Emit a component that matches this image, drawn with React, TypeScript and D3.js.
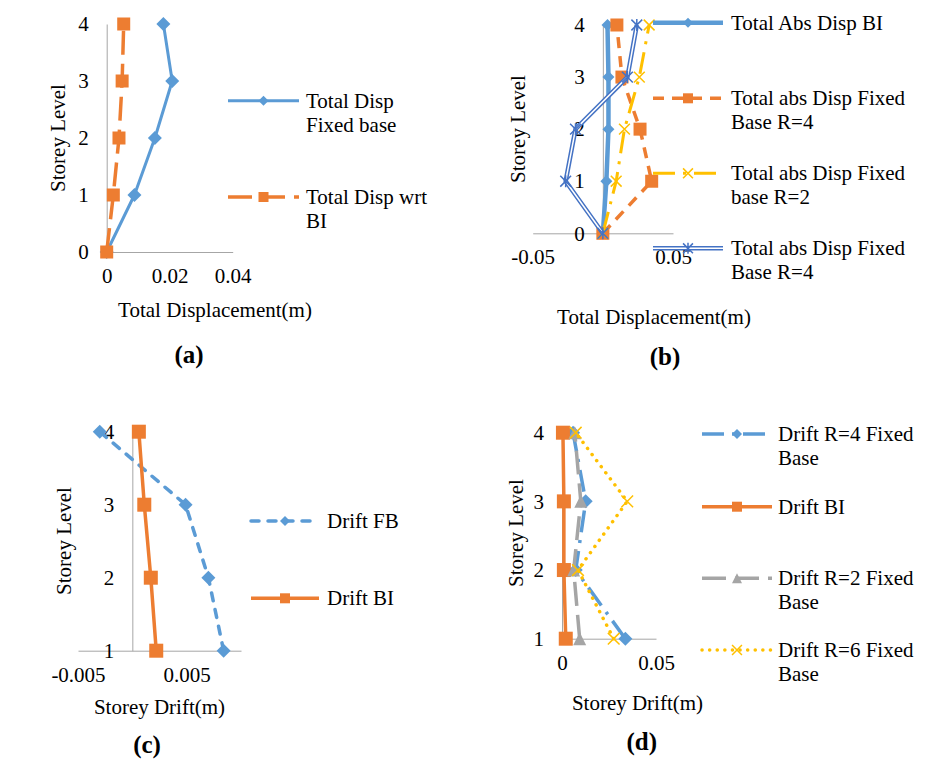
import * as d3 from 'd3';
import React, { useEffect, useRef } from 'react';

// storey levels
const levelsAB = [0, 1, 2, 3, 4];
const levelsCD = [1, 2, 3, 4];

// (a) total displacement (m)
const dispFixedBase = [0, 0.0088, 0.0153, 0.0208, 0.018];
const dispWrtBI = [0, 0.0021, 0.0039, 0.0049, 0.0054];

// (b) total absolute displacement (m)
const absDispBI = [0, 0.0025, 0.004, 0.004, 0.0033];
const absDispFixedR4 = [0, 0.0348, 0.0265, 0.0136, 0.01];
const absDispFixedR2 = [0, 0.0095, 0.0154, 0.026, 0.033];
const absDispFixedR4b = [0, -0.0265, -0.0195, 0.0175, 0.0242];

// (c) storey drift (m)
const driftFB = [0.0084, 0.007, 0.0049, -0.003];
const driftBI = [0.0022, 0.0017, 0.0011, 0.0006];

// (d) storey drift (m)
const driftR4 = [0.0337, 0.0073, 0.0126, 0.0059];
const driftBId = [0.002, 0.001, 0.001, 0.0005];
const driftR2 = [0.0094, 0.0062, 0.01, 0.0068];
const driftR6 = [0.0275, 0.0085, 0.0347, 0.0073];

// tick labels
const xTicksA = [0, 0.02, 0.04];
const xTicksB = [-0.05, 0.05];
const xTicksC = [-0.005, 0.005];
const xTicksD = [0, 0.05];

const BLUE = '#5B9BD5';
const ORANGE = '#ED7D31';
const GREY = '#A5A5A5';
const GOLD = '#FFC000';
const DBLUE = '#4472C4';
const AXIS = '#A6A6A6';
const FONT = '"Liberation Serif", "Times New Roman", serif';

function drawMarker(g, type, cx, cy, s, color) {
    const h = s / 2;
    if (type === 'diamond') {
        g.append('path')
            .attr('d', `M${cx},${cy - h}L${cx + h},${cy}L${cx},${cy + h}L${cx - h},${cy}Z`)
            .attr('fill', color);
    } else if (type === 'square') {
        g.append('rect')
            .attr('x', cx - h).attr('y', cy - h)
            .attr('width', s).attr('height', s)
            .attr('fill', color);
    } else if (type === 'triangle') {
        g.append('path')
            .attr('d', `M${cx},${cy - h}L${cx + h},${cy + h}L${cx - h},${cy + h}Z`)
            .attr('fill', color);
    } else if (type === 'x' || type === 'star') {
        const q = h * 0.9;
        g.append('path')
            .attr('d', `M${cx - q},${cy - q}L${cx + q},${cy + q}M${cx - q},${cy + q}L${cx + q},${cy - q}` +
                (type === 'star' ? `M${cx},${cy - h}L${cx},${cy + h}` : ''))
            .attr('stroke', color)
            .attr('stroke-width', 1.5)
            .attr('fill', 'none');
    }
}

function drawLine(g, pts, s) {
    const path = d3.line()(pts);
    g.append('path')
        .attr('d', path)
        .attr('fill', 'none')
        .attr('stroke', s.color)
        .attr('stroke-width', s.width)
        .attr('stroke-dasharray', s.dash || null)
        .attr('stroke-linecap', s.cap || 'butt')
        .attr('stroke-linejoin', 'round');
    if (s.double) {
        g.append('path')
            .attr('d', path)
            .attr('fill', 'none')
            .attr('stroke', '#fff')
            .attr('stroke-width', s.width - 3)
            .attr('stroke-linejoin', 'round');
    }
}

function drawPanel(svg, p) {
    const x = d3.scaleLinear().domain(p.xDomain).range(p.xRange);
    const y = d3.scaleLinear().domain(p.yDomain).range(p.yRange);
    const g = svg.append('g');

    const styleAxis = (a) => {
        a.select('.domain').attr('stroke', AXIS).attr('stroke-width', 1);
        a.selectAll('.tick line').remove();
        a.selectAll('text')
            .attr('fill', '#000')
            .style('font-family', FONT)
            .style('font-size', '21px');
    };

    g.append('g')
        .attr('transform', `translate(0,${y(p.xAxisAt)})`)
        .call(d3.axisBottom(x).tickValues(p.xTicks).tickFormat(d => String(d))
            .tickSize(0).tickSizeOuter(0).tickPadding(16))
        .call(styleAxis);

    g.append('g')
        .attr('transform', `translate(${x(p.yAxisAt)},0)`)
        .call(d3.axisLeft(y).tickValues(p.levels).tickFormat(d => String(d))
            .tickSize(0).tickSizeOuter(0).tickPadding(18))
        .call(styleAxis);

    // series
    p.series.forEach(s => {
        const pts = s.values.map((v, i) => [x(v), y(p.levels[i])]);
        drawLine(g, pts, s);
        pts.forEach(([cx, cy]) => drawMarker(g, s.marker, cx, cy, s.size, s.mcolor || s.color));
    });

    // legend
    const lg = svg.append('g');
    p.series.forEach((s, i) => {
        const ly = p.legend.ys[i];
        drawLine(lg, [[p.legend.x0, ly], [p.legend.x1, ly]], s);
        drawMarker(lg, s.marker, (p.legend.x0 + p.legend.x1) / 2, ly, s.lsize || 10, s.mcolor || s.color);
        s.label.forEach((t, k) => {
            lg.append('text')
                .attr('x', p.legend.tx)
                .attr('y', ly + 7 + k * 24)
                .style('font-family', FONT)
                .style('font-size', '21px')
                .text(t);
        });
    });

    // titles
    svg.append('text')
        .attr('transform', `translate(${p.yTitle[0]},${p.yTitle[1]}) rotate(-90)`)
        .attr('text-anchor', 'middle')
        .style('font-family', FONT)
        .style('font-size', '21px')
        .text('Storey Level');
    svg.append('text')
        .attr('x', p.xTitle[0]).attr('y', p.xTitle[1])
        .attr('text-anchor', 'middle')
        .style('font-family', FONT)
        .style('font-size', '21px')
        .text(p.xTitleText);
    svg.append('text')
        .attr('x', p.tag[0]).attr('y', p.tag[1])
        .attr('text-anchor', 'middle')
        .style('font-family', FONT)
        .style('font-size', '25px')
        .style('font-weight', 'bold')
        .text(p.tagText);
}

function App() {
    const ref = useRef(null);

    useEffect(() => {
        const svg = d3.select(ref.current);
        svg.selectAll('*').remove();

        const panels = [
            {
                xDomain: [0, 0.04], xRange: [106.7, 232.7],
                yDomain: [0, 4], yRange: [252, 24],
                xAxisAt: 0, yAxisAt: 0, xTicks: xTicksA, levels: levelsAB,
                series: [
                    { values: dispFixedBase, color: BLUE, width: 3, marker: 'diamond', size: 14,
                      label: ['Total Disp', 'Fixed base'] },
                    { values: dispWrtBI, color: ORANGE, width: 3.5, dash: '24,9', marker: 'square', size: 13,
                      label: ['Total Disp wrt', 'BI'] },
                ],
                legend: { x0: 228, x1: 299, tx: 306, ys: [100.7, 197] },
                yTitle: [65, 138], xTitle: [215, 317], xTitleText: 'Total Displacement(m)',
                tag: [189, 363], tagText: '(a)',
            },
            {
                xDomain: [-0.05, 0.05], xRange: [532.7, 673],
                yDomain: [0, 4], yRange: [233.3, 25],
                xAxisAt: 0, yAxisAt: 0, xTicks: xTicksB, levels: levelsAB,
                series: [
                    { values: absDispBI, color: BLUE, width: 4.5, marker: 'diamond', size: 12,
                      label: ['Total Abs Disp BI'] },
                    { values: absDispFixedR4, color: ORANGE, width: 3.5, dash: '11,8', marker: 'square', size: 13,
                      label: ['Total abs Disp Fixed', 'Base R=4'] },
                    { values: absDispFixedR2, color: GOLD, width: 3, dash: '22,8,3,8', marker: 'x', size: 12, lsize: 11,
                      label: ['Total abs Disp Fixed', 'base R=2'] },
                    { values: absDispFixedR4b, color: DBLUE, width: 4.5, double: true, marker: 'star', size: 12, lsize: 11,
                      label: ['Total abs Disp Fixed', 'Base R=4'] },
                ],
                legend: { x0: 653, x1: 723, tx: 731, ys: [22.7, 98.3, 173.3, 248.3] },
                yTitle: [525, 129], xTitle: [654, 324], xTitleText: 'Total Displacement(m)',
                tag: [665, 365], tagText: '(b)',
            },
            {
                xDomain: [-0.005, 0.01], xRange: [78, 241],
                yDomain: [1, 4], yRange: [650.7, 431.7],
                xAxisAt: 1, yAxisAt: 0, xTicks: xTicksC, levels: levelsCD,
                series: [
                    { values: driftFB, color: BLUE, width: 3.5, dash: '8,9', cap: 'round', marker: 'diamond', size: 14,
                      label: ['Drift FB'] },
                    { values: driftBI, color: ORANGE, width: 3.5, marker: 'square', size: 14,
                      label: ['Drift BI'] },
                ],
                legend: { x0: 251, x1: 319, tx: 327, ys: [521, 598.3] },
                yTitle: [71, 541], xTitle: [159.5, 714], xTitleText: 'Storey Drift(m)',
                tag: [147, 753], tagText: '(c)',
            },
            {
                xDomain: [0, 0.05], xRange: [562, 656],
                yDomain: [1, 4], yRange: [638.7, 432.7],
                xAxisAt: 1, yAxisAt: 0, xTicks: xTicksD, levels: levelsCD,
                series: [
                    { values: driftR4, color: BLUE, width: 3.5, dash: '22,8,3,8', marker: 'diamond', size: 14,
                      label: ['Drift R=4 Fixed', 'Base'] },
                    { values: driftBId, color: ORANGE, width: 3.5, marker: 'square', size: 14,
                      label: ['Drift BI'] },
                    { values: driftR2, color: GREY, width: 3.5, dash: '24,9', marker: 'triangle', size: 13,
                      label: ['Drift R=2 Fixed', 'Base'] },
                    { values: driftR6, color: GOLD, width: 3.5, dash: '0.1,7.5', cap: 'round', marker: 'x', size: 13, lsize: 11,
                      label: ['Drift R=6 Fixed', 'Base'] },
                ],
                legend: { x0: 702, x1: 772, tx: 778, ys: [434, 506.7, 578.3, 650] },
                yTitle: [523, 533], xTitle: [637.5, 710], xTitleText: 'Storey Drift(m)',
                tag: [641.7, 750], tagText: '(d)',
            },
        ];

        panels.forEach(p => drawPanel(svg, p));
    }, []);

    return (
        <svg ref={ref} width={930} height={762}
            style={{ position: 'absolute', left: 0, top: 0, background: '#fff' }}></svg>
    );
}

export default App;
